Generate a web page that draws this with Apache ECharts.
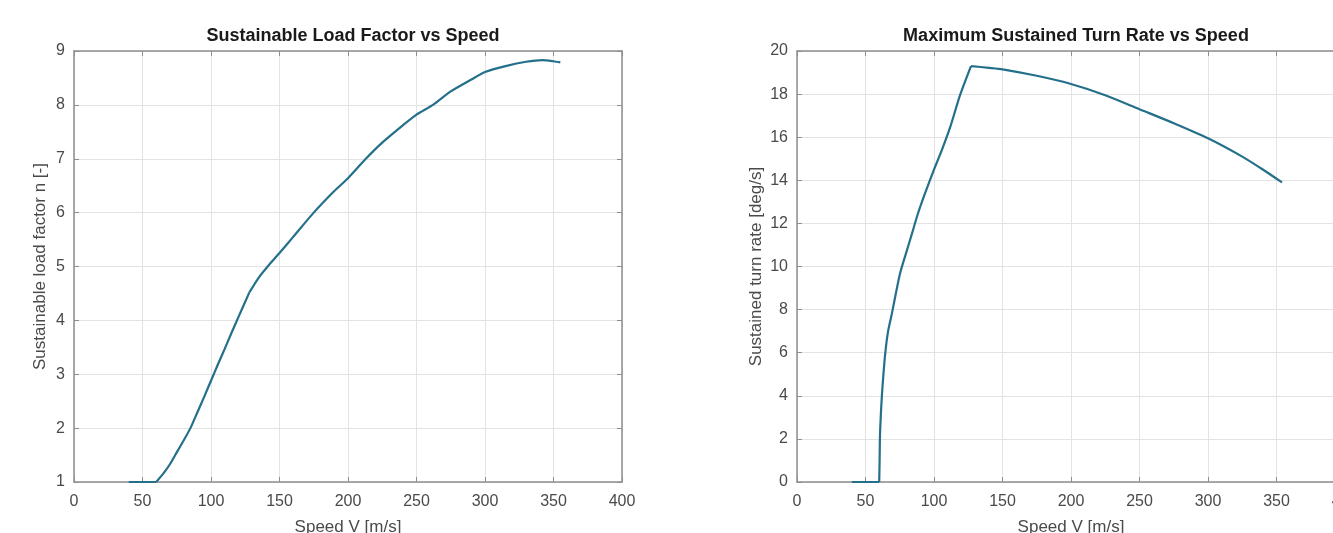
<!DOCTYPE html>
<html>
<head>
<meta charset="utf-8">
<script src="https://cdn.jsdelivr.net/npm/echarts@6/dist/echarts.min.js"></script>
<style>
html, body { margin: 0; padding: 0; background: #fff; }
#chart { width: 1333px; height: 533px; }
</style>
</head>
<body>
<div id="chart"></div>
<script>
// values
const titles = ['Sustainable Load Factor vs Speed', 'Maximum Sustained Turn Rate vs Speed'];
const xName = 'Speed V [m/s]';
const yNames = ['Sustainable load factor n [-]', 'Sustained turn rate [deg/s]'];

const speedLoad = [40, 50, 60, 65, 70, 75, 80, 85, 90, 95, 100, 105, 110, 115, 120, 128,
  135, 142, 150, 160, 175, 190, 200, 213, 225, 240, 250, 262, 275, 290, 300, 315, 330, 342, 350, 355];
const loadFactor = [1, 1, 1, 1.15, 1.33, 1.55, 1.77, 2.0, 2.29, 2.58, 2.88, 3.18, 3.47, 3.77, 4.06, 4.52,
  4.8, 5.02, 5.25, 5.55, 6.0, 6.4, 6.64, 7.0, 7.3, 7.62, 7.82, 8.0, 8.25, 8.47, 8.61, 8.72, 8.8, 8.83, 8.81, 8.79];
const loadKinks = [60, 128];   // speeds where the curve bends sharply

const speedTurn = [40, 50, 60, 60.3, 60.6, 61.5, 62.5, 64.3, 66.5, 69.2, 72, 75.3, 80, 83.8, 88, 93.5,
  100, 105.7, 112, 119, 127, 140, 150, 175, 200, 225, 250, 275, 300, 325, 340, 354];
const turnRate = [0, 0, 0, 1, 2.2, 3.5, 4.5, 5.9, 7, 7.8, 8.7, 9.7, 10.7, 11.5, 12.4, 13.4,
  14.5, 15.4, 16.5, 17.95, 19.3, 19.22, 19.15, 18.85, 18.47, 17.95, 17.3, 16.65, 15.95, 15.1, 14.5, 13.9];
const turnKinks = [60, 127];

const xTicks = { min: 0, max: 400, interval: 50 };
const yTicks = [{ min: 1, max: 9, interval: 1 }, { min: 0, max: 20, interval: 2 }];

const lineColor = '#24708a';
const frameColor = '#8e8e8e';
const labelColor = '#4a4a4a';
const font = '"Liberation Sans", Arial, sans-serif';

const chart = echarts.init(document.getElementById('chart'));

// cut a curve into pieces at its kinks so smoothing keeps the corners sharp
const pieces = (xs, ys, kinks) => {
  let out = [], cur = [];
  xs.forEach((x, i) => {
    cur.push([x, ys[i]]);
    if (kinks.indexOf(x) >= 0) {
      out.push(cur);
      cur = [[x, ys[i]]];
    }
  });
  if (cur.length > 1) out.push(cur);
  return out;
};

const grids = [
  { left: 74, top: 51, width: 548, height: 431, outerBoundsMode: 'none' },
  { left: 797, top: 51, width: 548, height: 431, outerBoundsMode: 'none' }
];

let xAxis = [], yAxis = [];
grids.forEach((g, i) => {
  // bottom axis with labels
  xAxis.push({
    type: 'value', gridIndex: i, position: 'bottom',
    min: xTicks.min, max: xTicks.max, interval: xTicks.interval,
    name: xName, nameLocation: 'middle', nameGap: 37,
    nameTextStyle: { fontFamily: font, fontSize: 17, color: labelColor },
    axisLine: { onZero: false, lineStyle: { color: frameColor, width: 1.5 } },
    axisTick: { inside: true, length: 5, lineStyle: { color: frameColor } },
    axisLabel: { fontFamily: font, fontSize: 16, color: labelColor, margin: 12, hideOverlap: false,
      showMinLabel: true, showMaxLabel: true },
    splitLine: { show: true, lineStyle: { color: '#e3e3e3', width: 1 } }
  });
  // top edge of the box
  xAxis.push({
    type: 'value', gridIndex: i, position: 'top',
    min: xTicks.min, max: xTicks.max, interval: xTicks.interval,
    axisLine: { onZero: false, lineStyle: { color: frameColor, width: 1.5 } },
    axisTick: { inside: true, length: 5, lineStyle: { color: frameColor } },
    axisLabel: { show: false },
    splitLine: { show: false }
  });
  yAxis.push({
    type: 'value', gridIndex: i, position: 'left',
    min: yTicks[i].min, max: yTicks[i].max, interval: yTicks[i].interval,
    name: yNames[i], nameLocation: 'middle', nameGap: i === 0 ? 25 : 32, nameRotate: 90,
    nameTextStyle: { fontFamily: font, fontSize: 17, color: labelColor },
    axisLine: { show: true, onZero: false, lineStyle: { color: frameColor, width: 1.5 } },
    axisTick: { show: true, inside: true, length: 5, lineStyle: { color: frameColor } },
    axisLabel: { fontFamily: font, fontSize: 16, color: labelColor, margin: 9, hideOverlap: false,
      showMinLabel: true, showMaxLabel: true },
    splitLine: { show: true, lineStyle: { color: '#e3e3e3', width: 1 } }
  });
  // right edge of the box
  yAxis.push({
    type: 'value', gridIndex: i, position: 'right',
    min: yTicks[i].min, max: yTicks[i].max, interval: yTicks[i].interval,
    axisLine: { show: true, onZero: false, lineStyle: { color: frameColor, width: 1.5 } },
    axisTick: { show: true, inside: true, length: 5, lineStyle: { color: frameColor } },
    axisLabel: { show: false },
    splitLine: { show: false }
  });
});

const makeSeries = (parts, axisIdx) => parts.map(p => ({
  type: 'line', xAxisIndex: axisIdx, yAxisIndex: axisIdx,
  data: p,
  showSymbol: false, clip: false,
  smooth: 0.25,
  lineStyle: { color: lineColor, width: 2.2 }
}));

const option = {
  backgroundColor: '#fff',
  animation: false,
  title: titles.map((t, i) => ({
    text: t,
    left: grids[i].left + grids[i].width / 2,
    top: 22,
    textAlign: 'center',
    textStyle: { fontFamily: font, fontSize: 18, fontWeight: 'bold', color: '#1a1a1a' }
  })),
  grid: grids,
  xAxis: xAxis,
  yAxis: yAxis,
  series: makeSeries(pieces(speedLoad, loadFactor, loadKinks), 0)
    .concat(makeSeries(pieces(speedTurn, turnRate, turnKinks), 2))
};

chart.setOption(option);
</script>
</body>
</html>
